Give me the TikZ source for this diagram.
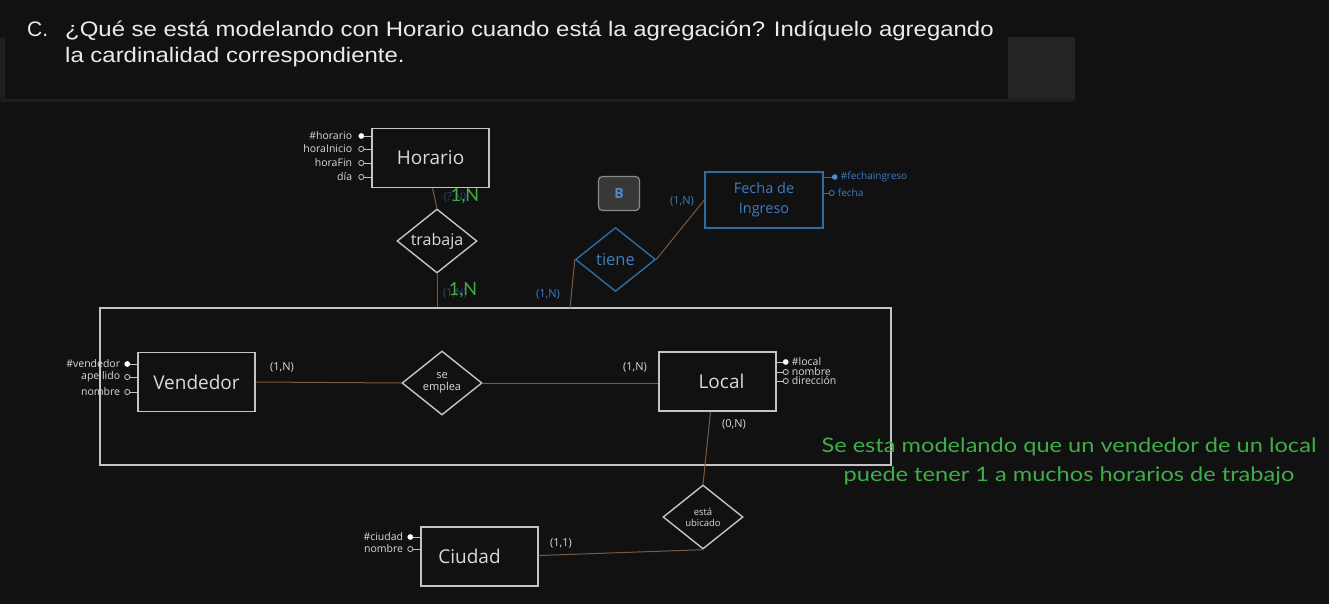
\documentclass[tikz,border=0pt]{standalone}
\usepackage{fontspec}
\setmainfont{Open Sans}
\newfontfamily\hdrfont{Liberation Sans}
\newfontfamily\handfont{Lato}
\usetikzlibrary{shapes.geometric}
\definecolor{bg}{HTML}{111111}
\definecolor{hdrbg}{HTML}{1E1E1E}
\definecolor{hdrside}{HTML}{242424}
\definecolor{ln}{HTML}{C4C4C4}
\definecolor{txt}{HTML}{DADADA}
\definecolor{brown}{HTML}{7A5A44}
\definecolor{blu}{HTML}{2E6DA4}
\definecolor{blutxt}{HTML}{3C7DC4}
\definecolor{grn}{HTML}{3FAE49}
\tikzset{
  ent/.style={draw=ln, line width=1.4pt, minimum width=117pt, minimum height=59pt, inner sep=0pt, text=txt, font=\fontsize{19}{21}\selectfont},
  rel/.style={diamond, draw=ln, line width=1.4pt, aspect=1.25, minimum width=80pt, minimum height=64pt, inner sep=0pt, text=txt, align=center},
  conn/.style={draw=brown, line width=1pt},
  bconn/.style={draw=blu, line width=1pt},
  attl/.style={text=txt, font=\fontsize{10.5}{11}\selectfont, inner sep=0pt, anchor=east},
  attr/.style={text=txt, font=\fontsize{10.5}{11}\selectfont, inner sep=0pt, anchor=west},
  card/.style={text=txt, font=\fontsize{11}{12}\selectfont, inner sep=0pt},
  keyc/.style={fill=white, draw=white},
  opnc/.style={draw=ln, fill=bg, line width=0.8pt},
  hand/.style={text=grn, font=\handfont\fontsize{18}{20}\selectfont, inner sep=0pt},
}
\begin{document}
\begin{tikzpicture}[x=1pt,y=-1pt]
\useasboundingbox (0,0) rectangle (1329,604);
\fill[bg] (0,0) rectangle (1329,604);
% header
\fill[hdrbg] (0,0) rectangle (1075,102);
\fill[bg] (0,0) rectangle (1075,37);
\fill[bg] (5,37) rectangle (1008,99);
\fill[hdrside] (1008,37) rectangle (1075,99);
\node[anchor=base west, inner sep=0pt, text=white!92!black, font=\hdrfont\fontsize{21}{24}\selectfont] (hC) at (27,37) {C.};
\node[anchor=base west, inner sep=0pt, text=white!92!black, font=\hdrfont\fontsize{21}{24}\selectfont, xscale=1.14] (h1) at (65,37) {¿Qué se está modelando con Horario cuando está la agregación? Indíquelo agregando};
\node[anchor=base west, inner sep=0pt, text=white!92!black, font=\hdrfont\fontsize{21}{24}\selectfont, xscale=1.14] (h2) at (65,63) {la cardinalidad correspondiente.};

% aggregation
\node[draw=ln, line width=1.6pt, minimum width=791pt, minimum height=157pt, inner sep=0pt] (agg) at (495.5,386.5) {};

% Horario
\node[ent] (horario) at (430.5,158) {Horario};
\foreach \yy/\nm/\k in {136/{\#horario}/keyc,149/{horaInicio}/opnc,163/{horaFin}/opnc,177/{día}/opnc}{
  \draw[ln, line width=0.8pt] (horario.west |- 0,\yy) -- ++(-7,0) coordinate (c);
  \draw[\k] (c) ++(-3,0) circle (2.6pt);
  \node[attl] at ([xshift=-12pt]c) {\nm};
}
\node[rel, font=\fontsize{16}{18}\selectfont] (trabaja) at (437,241) {trabaja};
\draw[conn] ([xshift=2pt]horario.south) -- (trabaja.north);
\coordinate (aggTr) at (trabaja.south |- agg.north);
\draw[conn] (trabaja.south) -- (aggTr);
\node[card, text=blu!70!black] (c1) at (455,197) {(?,N)};
\node[card, text=blu!70!black] (c2) at (455,293) {(1,N)};
\node[hand] (g1) at (465,196) {1,N};
\node[hand] (g2) at (463,290) {1,N};

% Vendedor
\node[ent] (vend) at (196.5,382) {Vendedor};
\foreach \yy/\nm/\k in {364/{\#vendedor}/keyc,377/{apellido}/opnc,392/{nombre}/opnc}{
  \draw[ln, line width=0.8pt] (vend.west |- 0,\yy) -- ++(-7,0) coordinate (c);
  \draw[\k] (c) ++(-3,0) circle (2.6pt);
  \node[attl] at ([xshift=-10pt]c) {\nm};
}
% se emplea
\node[rel, font=\fontsize{11}{12}\selectfont] (emplea) at (442,383) {se\\emplea};
% Local
\node[ent] (local) at (717.5,381.5) {\hspace*{8pt}Local};
\foreach \yy/\nm/\k in {362/{\#local}/keyc,372/{nombre}/opnc,381/{dirección}/opnc}{
  \draw[ln, line width=0.8pt] (local.east |- 0,\yy) -- ++(9,0) coordinate (c);
  \draw[\k] (c) ++(0,0) circle (2.6pt);
  \node[attr] at ([xshift=6pt]c) {\nm};
}
\draw[conn] (vend.east) -- (emplea.west);
\draw[conn] (emplea.east) -- (local.west |- emplea.east);
\node[card] (c3) at (282,367) {(1,N)};
\node[card] (c4) at (635,367) {(1,N)};

% esta ubicado
\node[rel, font=\fontsize{9.5}{11}\selectfont] (ubic) at (703,517) {está\\ubicado};
\draw[conn] ([xshift=-7pt]local.south) -- (ubic.north);
\node[card] (c5) at (734,424) {(0,N)};
% Ciudad
\node[ent] (ciudad) at (479.5,556.5) {\hspace*{-20pt}Ciudad};
\foreach \yy/\nm/\k in {537/{\#ciudad}/keyc,549/{nombre}/opnc}{
  \draw[ln, line width=0.8pt] (ciudad.west |- 0,\yy) -- ++(-7,0) coordinate (c);
  \draw[\k] (c) ++(-3,0) circle (2.6pt);
  \node[attl] at ([xshift=-10pt]c) {\nm};
}
\draw[conn] (ubic.south) -- ([yshift=1pt]ciudad.east);
\node[card] (c6) at (561,543) {(1,1)};

% B button
\node[draw=ln!70!black, fill=white!22!black, rounded corners=4pt, line width=1.2pt, minimum width=41pt, minimum height=34pt, inner sep=0pt, text=blutxt!90!white, font=\fontsize{14}{16}\selectfont\bfseries] (bbtn) at (619,193.5) {B};

% tiene
\node[rel, draw=blu, text=blutxt, font=\fontsize{16.5}{18}\selectfont] (tiene) at (615.5,259.5) {tiene};
\coordinate (aggTi) at (570,308);
\draw[conn] (aggTi) -- (tiene.west);
\node[card, text=blutxt] (c7) at (548,294) {(1,N)};
% Fecha de Ingreso
\node[ent, draw=blu, text=blutxt, font=\fontsize{14.5}{20}\selectfont, align=center, minimum width=118pt, minimum height=56pt] (fecha) at (764,200) {Fecha de\\Ingreso};
\draw[conn] (tiene.east) -- (fecha.west);
\node[card, text=blutxt] (c8) at (682,201) {(1,N)};
\foreach \yy/\nm/\k/\dx in {177/{\#fechaingreso}/keyc/11,193/{fecha}/opnc/8}{
  \draw[blu, line width=0.8pt] (fecha.east |- 0,\yy) -- ++(\dx,0) coordinate (c);
  \ifnum\dx=11 \fill[blutxt!90!white] (c) circle (2.8pt);\else \draw[blutxt, fill=bg, line width=0.8pt] (c) circle (2.6pt);\fi
  \node[attr, text=blutxt, font=\fontsize{10}{11}\selectfont] at ([xshift=6pt]c) {\nm};
}

% annotation
\node[hand, font=\handfont\fontsize{20}{22}\selectfont, xscale=1.18] (n1) at (1069,447) {Se esta modelando que un vendedor de un local};
\node[hand, font=\handfont\fontsize{20}{22}\selectfont, xscale=1.18] (n2) at (1069,476) {puede tener 1 a muchos horarios de trabajo};
\end{tikzpicture}
\end{document}
